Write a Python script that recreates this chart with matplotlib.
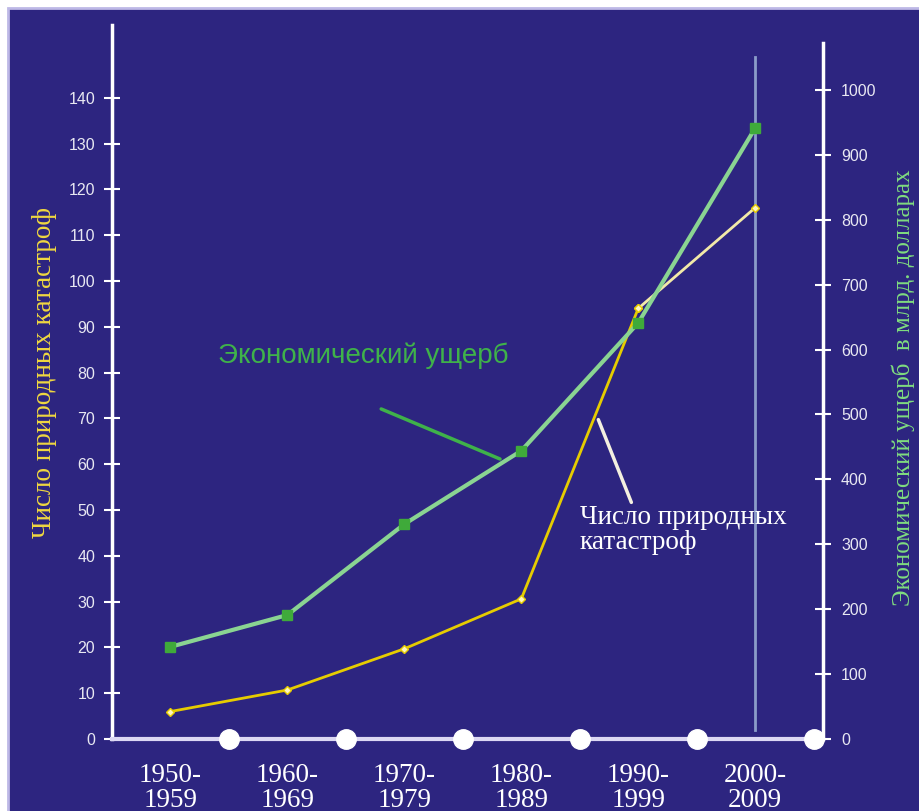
# two-axis line chart: natural disasters and economic damage by decade

import matplotlib.pyplot as plt
from matplotlib.patches import Rectangle

periods = ["1950-\n1959", "1960-\n1969", "1970-\n1979", "1980-\n1989", "1990-\n1999", "2000-\n2009"]
disasters = [6, 10.7, 19.7, 30.6, 94, 116]
damage = [142, 191, 331, 444, 641, 941]
left_ticks = list(range(0, 141, 10))
right_ticks = list(range(0, 1001, 100))

bg = "#2d2580"
serif = "Liberation Serif"
sans = "Liberation Sans"


def main():
    fig = plt.figure(figsize=(9.19, 8.11), dpi=100)
    fig.patch.set_facecolor("white")
    # dark blue panel with light border
    fig.add_artist(Rectangle((8 / 919, -0.02), 1.0, (811 - 8) / 811 + 0.02,
                             transform=fig.transFigure, facecolor=bg,
                             edgecolor="#bdb8e6", linewidth=2, zorder=0))

    ax = fig.add_axes([112 / 919, 72 / 811, 711 / 919, 714 / 811])
    ax.set_facecolor("none")
    x = list(range(len(periods)))
    ax.set_xlim(-0.5, 5.58)
    ax.set_ylim(0, 155.9)

    ax2 = ax.twinx()
    ax2.set_ylim(0, 155.9 * 7.055)

    # spines
    for s in ["top", "right"]:
        ax.spines[s].set_visible(False)
    ax.spines["left"].set_color("white")
    ax.spines["left"].set_linewidth(2.5)
    ax.spines["bottom"].set_color("#dcd8f4")
    ax.spines["bottom"].set_linewidth(3)
    for s in ["top", "left", "bottom"]:
        ax2.spines[s].set_visible(False)
    ax2.spines["right"].set_color("white")
    ax2.spines["right"].set_linewidth(2.5)
    ax2.spines["right"].set_bounds(0, 1072)

    # ticks
    ax.set_yticks(left_ticks)
    ax.tick_params(axis="y", direction="inout", length=12, width=1.5,
                   color="white", labelcolor="#e8e8f2", labelsize=11.5, pad=6)
    for lab in ax.get_yticklabels():
        lab.set_family(sans)
    ax2.set_yticks(right_ticks)
    ax2.tick_params(axis="y", direction="inout", length=12, width=1.5,
                    color="white", labelcolor="#e8e8f2", labelsize=11.5, pad=7)
    for lab in ax2.get_yticklabels():
        lab.set_family(sans)
    ax.set_xticks(x)
    ax.set_xticklabels(periods, family=serif, fontsize=19.5, color="white",
                       linespacing=1.0)
    ax.tick_params(axis="x", length=0, pad=17)

    # round markers on the x axis between decades
    ax.plot([i + 0.5 for i in x], [0] * len(x), "o", color="white", ms=14,
            clip_on=False, zorder=6)

    # vertical line at last decade
    ax.axvline(x[-1], ymin=2 / 155.9, ymax=149 / 155.9, color="#8b9cc9", lw=2)

    # disasters (left axis)
    ax.plot(x[:5], disasters[:5], color="#e6cc00", lw=2, marker="D", ms=4.5,
            mfc="#fff6c0", mec="#e6cc00", zorder=3)
    ax.plot(x[4:], disasters[4:], color="#f2eaa8", lw=2, marker="D", ms=4.5,
            mfc="#fff6c0", mec="#e6cc00", zorder=3)

    # damage (right axis)
    ax2.plot(x, damage, color="#8ad492", lw=3, marker="s", ms=7,
             mfc="#3faa3a", mec="#3faa3a", zorder=4)

    # annotations
    ax.text(1.65, 83.6, "Экономический ущерб", family=sans, fontsize=20,
            color="#3fb24a", ha="center", va="center")
    ax.annotate("", xy=(2.84, 60.9), xytext=(1.78, 72.3),
                arrowprops=dict(arrowstyle="-", color="#3fb24a", lw=2.5))
    ax.text(3.5, 45.6, "Число природных\nкатастроф", family=serif, fontsize=19.5,
            color="white", ha="left", va="center", linespacing=1.0)
    ax.annotate("", xy=(3.95, 51.1), xytext=(3.65, 70.3),
                arrowprops=dict(arrowstyle="-", color="#f4f0e0", lw=2.5))

    # axis titles
    fig.text(45 / 919, 1 - 372 / 811, "Число природных катастроф", rotation=90,
             family=serif, fontsize=19.5, color="#f0d840", ha="center", va="center")
    fig.text(903 / 919, 1 - 388 / 811, "Экономический ущерб  в млрд. долларах",
             rotation=90, family=serif, fontsize=18, color="#7fdc7f",
             ha="center", va="center")

    fig.savefig("out.png", dpi=100)


main()
